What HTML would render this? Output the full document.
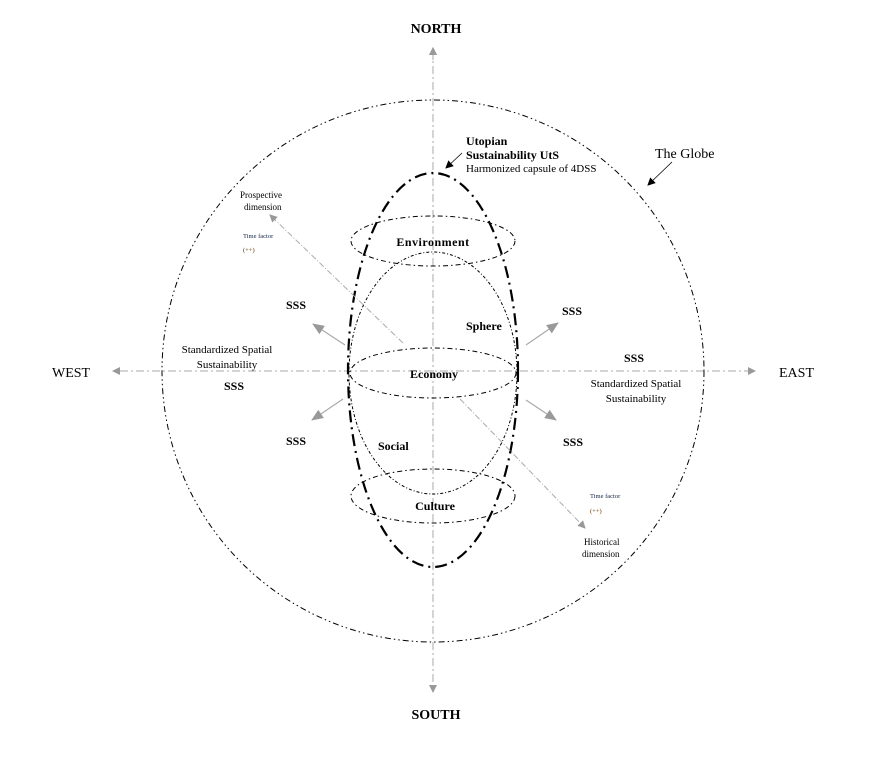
<!DOCTYPE html>
<html><head><style>body{margin:0;background:#fff}svg{display:block}</style></head><body>
<svg width="871" height="760" xmlns="http://www.w3.org/2000/svg" font-family="Liberation Serif, serif">
<defs>
<marker id="g" markerWidth="8" markerHeight="8" refX="7" refY="4" orient="auto" markerUnits="userSpaceOnUse"><path d="M0,0 L8,4 L0,8 z" fill="#999"/></marker>
<marker id="gb" markerWidth="12" markerHeight="10" refX="11" refY="5" orient="auto" markerUnits="userSpaceOnUse"><path d="M0,0 L12,5 L0,10 z" fill="#999"/></marker>
<marker id="k" markerWidth="8" markerHeight="8" refX="7" refY="4" orient="auto" markerUnits="userSpaceOnUse"><path d="M0,0 L8,4 L0,8 z" fill="#000"/></marker>
</defs>
<!-- axes -->
<line x1="433" y1="50" x2="433" y2="692" stroke="#aaa" stroke-width="1" stroke-dasharray="8,3,2,3" marker-end="url(#g)"/>
<line x1="433" y1="692" x2="433" y2="48" stroke="none" marker-end="url(#g)"/>
<path d="M433 60 L433 48" stroke="#aaa" marker-end="url(#g)"/>
<line x1="120" y1="371" x2="755" y2="371" stroke="#aaa" stroke-width="1" stroke-dasharray="8,3,2,3" marker-end="url(#g)"/>
<path d="M125 371 L113 371" stroke="#aaa" marker-end="url(#g)"/>
<!-- globe -->
<circle cx="433" cy="371" r="271" fill="none" stroke="#000" stroke-width="1" stroke-dasharray="6,3,1.5,3,1.5,3"/>
<!-- sphere -->
<ellipse cx="433" cy="373" rx="84" ry="121" fill="none" stroke="#000" stroke-width="1" stroke-dasharray="3,2,1,2"/>
<!-- capsule -->
<ellipse cx="433" cy="370" rx="85" ry="197" fill="none" stroke="#000" stroke-width="2.2" stroke-dasharray="12,5,2,5"/>
<!-- rings -->
<ellipse cx="433" cy="241" rx="82" ry="25" fill="none" stroke="#000" stroke-width="1" stroke-dasharray="5,3,1.5,3"/>
<ellipse cx="433" cy="373" rx="83" ry="25" fill="none" stroke="#000" stroke-width="1" stroke-dasharray="5,3,1.5,3"/>
<ellipse cx="433" cy="496" rx="82" ry="27" fill="none" stroke="#000" stroke-width="1" stroke-dasharray="5,3,1.5,3"/>
<!-- diagonals -->
<line x1="403" y1="343" x2="270" y2="215" stroke="#aaa" stroke-dasharray="6,2,1,2" marker-end="url(#g)"/>
<line x1="460" y1="399" x2="585" y2="528" stroke="#aaa" stroke-dasharray="6,2,1,2" marker-end="url(#g)"/>
<!-- SSS arrows -->
<line x1="345" y1="345" x2="313" y2="324" stroke="#aaa" stroke-width="1.2" marker-end="url(#gb)"/>
<line x1="526" y1="345" x2="558" y2="323" stroke="#aaa" stroke-width="1.2" marker-end="url(#gb)"/>
<line x1="343" y1="399" x2="312" y2="420" stroke="#aaa" stroke-width="1.2" marker-end="url(#gb)"/>
<line x1="526" y1="400" x2="556" y2="420" stroke="#aaa" stroke-width="1.2" marker-end="url(#gb)"/>
<!-- small black arrows -->
<line x1="672" y1="162" x2="648" y2="185" stroke="#000" stroke-width="0.8" marker-end="url(#k)"/>
<line x1="462" y1="153" x2="446" y2="168" stroke="#000" stroke-width="0.8" marker-end="url(#k)"/>
<!-- text -->
<g font-size="14">
<text x="436" y="33" text-anchor="middle" font-weight="bold" font-size="14">NORTH</text>
<text x="436" y="719" text-anchor="middle" font-weight="bold">SOUTH</text>
<text x="52" y="377">WEST</text>
<text x="779" y="377">EAST</text>
<text x="655" y="158">The Globe</text>
</g>
<g font-size="12" font-weight="bold">
<text x="466" y="145">Utopian</text>
<text x="466" y="159">Sustainability UtS</text>
<text x="433" y="246" text-anchor="middle" letter-spacing="0.5">Environment</text>
<text x="434" y="378" text-anchor="middle">Economy</text>
<text x="466" y="330">Sphere</text>
<text x="378" y="450">Social</text>
<text x="435" y="510" text-anchor="middle">Culture</text>
<text x="286" y="309">SSS</text>
<text x="562" y="315">SSS</text>
<text x="624" y="362">SSS</text>
<text x="224" y="390">SSS</text>
<text x="286" y="445">SSS</text>
<text x="563" y="446">SSS</text>
</g>
<g font-size="11">
<text x="466" y="172">Harmonized capsule of 4DSS</text>
<text x="227" y="353" text-anchor="middle">Standardized Spatial</text>
<text x="227" y="368" text-anchor="middle">Sustainability</text>
<text x="636" y="387" text-anchor="middle">Standardized Spatial</text>
<text x="636" y="402" text-anchor="middle">Sustainability</text>
</g>
<g font-size="9">
<text x="240" y="198">Prospective</text>
<text x="244" y="210">dimension</text>
<text x="584" y="545">Historical</text>
<text x="582" y="557">dimension</text>
</g>
<g font-size="6.5">
<text x="243" y="238" fill="#124">Time factor</text>
<text x="243" y="252" fill="#630">(++)</text>
<text x="590" y="498" fill="#124">Time factor</text>
<text x="590" y="513" fill="#630">(++)</text>
</g>
</svg>
</body></html>
